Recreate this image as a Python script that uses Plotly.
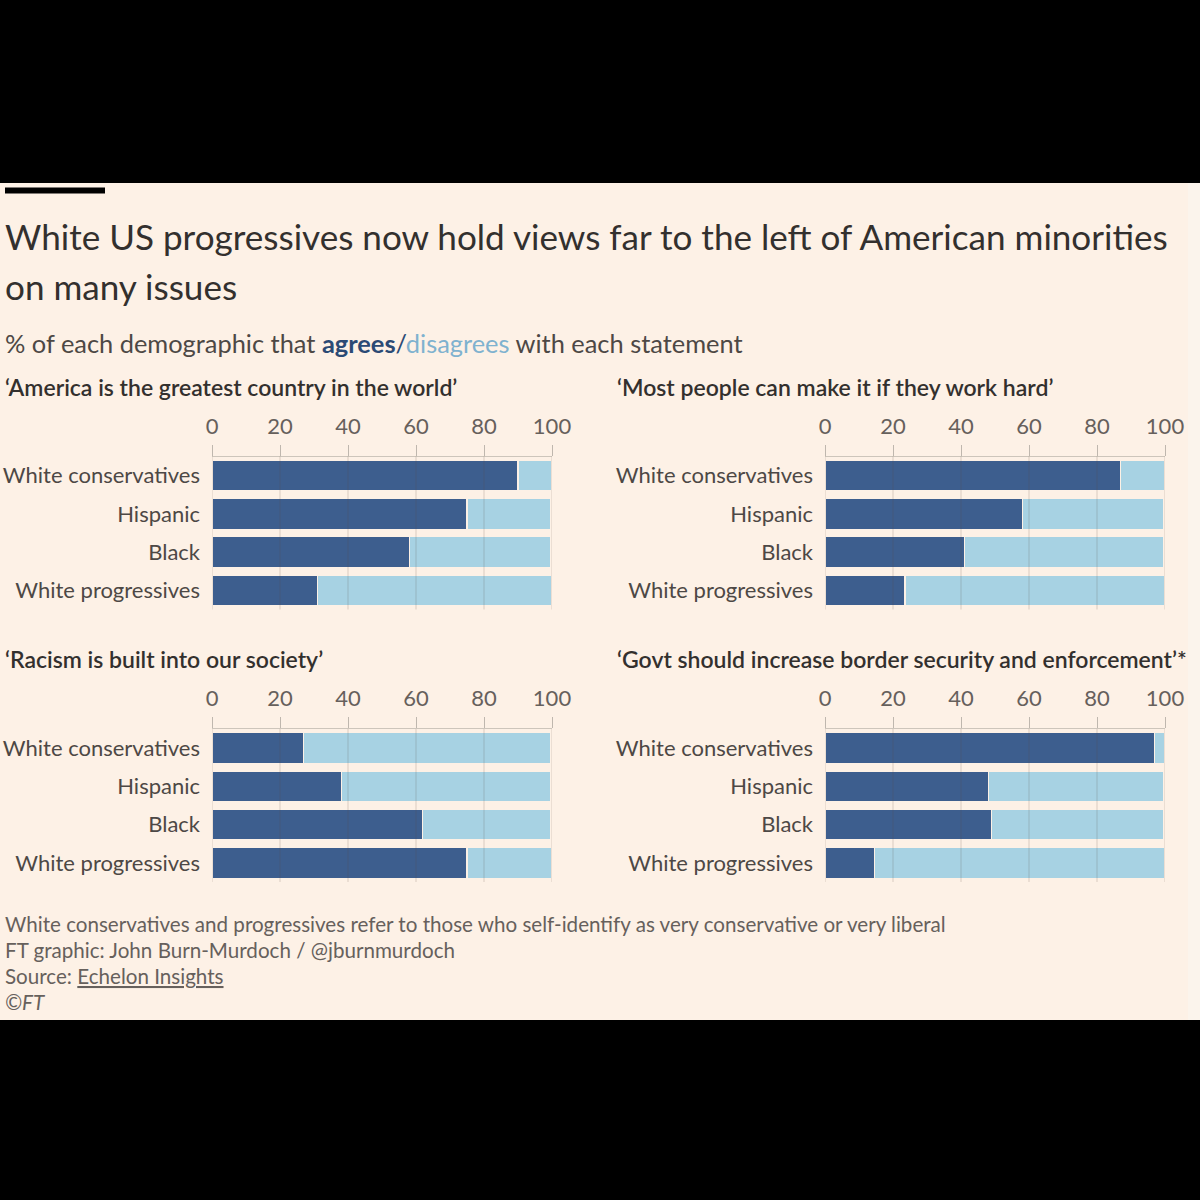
import plotly.graph_objects as go

# ---------------- data ----------------
groups = ["White conservatives", "Hispanic", "Black", "White progressives"]
panel_titles = [
    "‘America is the greatest country in the world’",
    "‘Most people can make it if they work hard’",
    "‘Racism is built into our society’",
    "‘Govt should increase border security and enforcement’*",
]
agree_america = [90, 75, 58, 31]
disagree_america = [10, 24.5, 41.5, 69]
agree_hardwork = [87, 58, 41, 23.5]
disagree_hardwork = [13, 41.5, 58.5, 76.5]
agree_racism = [27, 38, 62, 75]
disagree_racism = [72.5, 61.5, 37.5, 25]
agree_border = [97, 48, 49, 14.5]
disagree_border = [3, 51.5, 50.5, 85.5]
tick_values = [0, 20, 40, 60, 80, 100]
tick_labels = ["0", "20", "40", "60", "80", "100"]

agree_sets = [agree_america, agree_hardwork, agree_racism, agree_border]
disagree_sets = [disagree_america, disagree_hardwork, disagree_racism, disagree_border]

# ---------------- style ----------------
W = H = 1200
CREAM = "#fdf1e6"
DARK = "#3d5e8e"
LIGHT = "#a7d2e3"
TXT = "#33302e"
GREY = "#66605c"
FONT = "Lato"

def px(x):
    return x / W

def py(y):
    return 1 - y / H

# axis domains in pixel positions
x_dom = [(212, 552), (825, 1165), (212, 552), (825, 1165)]
y_dom = [(456.5, 609.5), (456.5, 609.5), (729, 882), (729, 882)]

fig = go.Figure()
layout = dict(
    width=W, height=H,
    margin=dict(l=0, r=0, t=0, b=0, autoexpand=False),
    paper_bgcolor="black",
    plot_bgcolor=CREAM,
    barmode="stack",
    bargap=0.2,
    showlegend=False,
    font=dict(family=FONT, color=TXT),
)

shapes = []
annotations = []

for i in range(4):
    xa = "x" if i == 0 else f"x{i+1}"
    ya = "y" if i == 0 else f"y{i+1}"
    fig.add_trace(go.Bar(
        y=groups, x=agree_sets[i], orientation="h",
        marker=dict(color=DARK, line=dict(color=CREAM, width=1.2)),
        xaxis=xa, yaxis=ya, hoverinfo="x+y",
    ))
    fig.add_trace(go.Bar(
        y=groups, x=disagree_sets[i], orientation="h",
        marker=dict(color=LIGHT, line=dict(color=CREAM, width=1.2)),
        xaxis=xa, yaxis=ya, hoverinfo="x+y",
    ))
    xk = "xaxis" if i == 0 else f"xaxis{i+1}"
    yk = "yaxis" if i == 0 else f"yaxis{i+1}"
    layout[xk] = dict(
        domain=[px(x_dom[i][0]), px(x_dom[i][1])],
        anchor=ya, side="top", range=[0, 100],
        tickvals=tick_values, ticktext=tick_labels,
        ticks="outside", ticklen=11, tickcolor="#bfb7ae", tickwidth=1,
        showline=True, linecolor="#cdc5bb", linewidth=1,
        showgrid=False, zeroline=False, automargin=False,
        tickfont=dict(family=FONT, size=22, color=GREY),
        ticklabelstandoff=2,
        fixedrange=True,
    )
    layout[yk] = dict(
        domain=[py(y_dom[i][1]), py(y_dom[i][0])],
        anchor=xa, autorange="reversed",
        categoryorder="array", categoryarray=groups,
        ticks="", showline=False, showgrid=False, zeroline=False,
        automargin=False,
        tickfont=dict(family=FONT, size=22, color="#4d4845"),
        ticklabelstandoff=11,
        fixedrange=True,
    )
    # gridlines drawn over the bars
    for v in tick_values:
        shapes.append(dict(
            type="line", xref=xa, yref=f"{ya} domain",
            x0=v, x1=v, y0=0, y1=1, layer="above",
            line=dict(color="rgba(90,78,66,0.22)", width=1),
        ))
    # panel title
    tx = 3 if i in (0, 2) else 615
    tyy = 387 if i < 2 else 659
    annotations.append(dict(
        text=panel_titles[i], x=px(tx), y=py(tyy), xref="paper", yref="paper",
        xanchor="left", yanchor="middle", showarrow=False,
        font=dict(family=FONT, size=23, color=TXT, weight=600),
    ))

# cream background panel and top black rule
shapes.insert(0, dict(type="rect", xref="paper", yref="paper",
                      x0=px(1188), x1=1, y0=py(1020), y1=py(183),
                      fillcolor="#fbf4ec", line=dict(width=0), layer="below"))
shapes.insert(0, dict(type="rect", xref="paper", yref="paper",
                      x0=0, x1=px(1188), y0=py(1020), y1=py(183),
                      fillcolor=CREAM, line=dict(width=0), layer="below"))
shapes.append(dict(type="rect", xref="paper", yref="paper",
                   x0=px(5), x1=px(105), y0=py(193.5), y1=py(187.5),
                   fillcolor="black", line=dict(width=0), layer="above"))

# title & subtitle
annotations += [
    dict(text="White US progressives now hold views far to the left of American minorities",
         x=px(3), y=py(236), xref="paper", yref="paper", xanchor="left", yanchor="middle",
         showarrow=False, font=dict(family=FONT, size=35.1, color=TXT)),
    dict(text="on many issues",
         x=px(3), y=py(286), xref="paper", yref="paper", xanchor="left", yanchor="middle",
         showarrow=False, font=dict(family=FONT, size=35.1, color=TXT)),
    dict(text=("% of each demographic that "
               "<span style='color:#2b4a75;font-weight:bold'>agrees</span>"
               "<span style='color:#2b4a75'>/</span>"
               "<span style='color:#7fb2cf'>disagrees</span> with each statement"),
         x=px(3), y=py(343), xref="paper", yref="paper", xanchor="left", yanchor="middle",
         showarrow=False, font=dict(family=FONT, size=25.4, color="#4d4845")),
]

footer = [
    "White conservatives and progressives refer to those who self-identify as very conservative or very liberal",
    "FT graphic: John Burn-Murdoch / @jburnmurdoch",
    "Source: <span style='text-decoration:underline'>Echelon Insights</span>",
    "<i>©FT</i>",
]
for k, line in enumerate(footer):
    annotations.append(dict(
        text=line, x=px(3), y=py(924 + 26 * k), xref="paper", yref="paper",
        xanchor="left", yanchor="middle", showarrow=False,
        font=dict(family=FONT, size=20.6, color=GREY),
    ))

layout["shapes"] = shapes
layout["annotations"] = annotations
fig.update_layout(**layout)

fig.write_html("out.html", config={"displayModeBar": False},
               post_script="document.body.style.margin='0';")
